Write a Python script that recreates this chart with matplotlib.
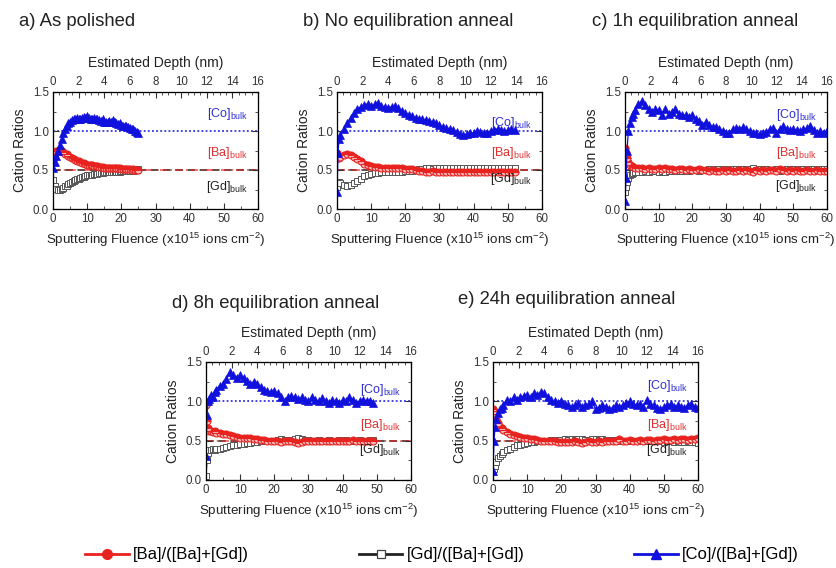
import matplotlib
matplotlib.use('Agg')
import matplotlib.pyplot as plt
from matplotlib.lines import Line2D
from matplotlib.ticker import MultipleLocator

plt.rcParams['font.family'] = ['Liberation Sans', 'DejaVu Sans']
plt.rcParams['mathtext.fontset'] = 'custom'
plt.rcParams['mathtext.rm'] = 'Liberation Sans'
plt.rcParams['mathtext.it'] = 'Liberation Sans'

# ---------- data ----------
a_x = [0, 0.5, 1, 1.5, 2, 2.5, 3, 3.5, 4, 4.5, 5, 5.5, 6, 6.5, 7, 7.5, 8, 8.5, 9, 9.5,
       10, 10.5, 11, 11.5, 12, 12.5, 13, 13.5, 14, 14.5, 15, 15.5, 16, 16.5, 17, 17.5,
       18, 18.5, 19, 19.5, 20, 20.5, 21, 21.5, 22, 22.5, 23, 23.5, 24, 24.5, 25]
a_co = [0.52, 0.60, 0.68, 0.75, 0.82, 0.90, 0.97, 1.02, 1.07, 1.10,
        1.12, 1.14, 1.16, 1.15, 1.17, 1.16, 1.15, 1.17, 1.18, 1.17,
        1.19, 1.17, 1.16, 1.15, 1.17, 1.15, 1.16, 1.14, 1.13, 1.15,
        1.12, 1.12, 1.11, 1.13, 1.12, 1.14, 1.11, 1.10, 1.09, 1.10,
        1.08, 1.07, 1.06, 1.07, 1.05, 1.04, 1.03, 1.02, 1.00, 0.99, 0.97]
a_ba = [0.63, 0.70, 0.74, 0.75, 0.75, 0.74, 0.73, 0.71, 0.70, 0.68,
        0.67, 0.65, 0.64, 0.63, 0.62, 0.61, 0.60, 0.59, 0.59, 0.58,
        0.57, 0.57, 0.56, 0.56, 0.55, 0.55, 0.55, 0.54, 0.54, 0.54,
        0.53, 0.53, 0.53, 0.53, 0.52, 0.52, 0.52, 0.52, 0.52, 0.52,
        0.51, 0.51, 0.51, 0.51, 0.51, 0.51, 0.50, 0.51, 0.50, 0.50, 0.50]
a_gd = [0.37, 0.30, 0.26, 0.25, 0.25, 0.26, 0.27, 0.29, 0.30, 0.32,
        0.33, 0.35, 0.36, 0.37, 0.38, 0.39, 0.40, 0.41, 0.41, 0.42,
        0.43, 0.43, 0.44, 0.44, 0.45, 0.45, 0.45, 0.46, 0.46, 0.46,
        0.47, 0.47, 0.47, 0.47, 0.48, 0.48, 0.48, 0.48, 0.48, 0.48,
        0.49, 0.49, 0.49, 0.49, 0.49, 0.49, 0.50, 0.49, 0.50, 0.50, 0.51]

b_x = [0, 0.3, 0.6, 1, 2, 3, 4, 5, 6, 7, 8, 9, 10, 11, 12, 13, 14, 15, 16, 17, 18,
       19, 20, 21, 22, 23, 24, 25, 26, 27, 28, 29, 30, 31, 32, 33, 34, 35, 36, 37,
       38, 39, 40, 41, 42, 43, 44, 45, 46, 47, 48, 49, 50, 51, 52]
b_co = [0.22, 0.72, 0.90,
        0.95, 1.02, 1.10, 1.17, 1.23, 1.28, 1.31, 1.33, 1.35, 1.32,
        1.34, 1.36, 1.32, 1.31, 1.30, 1.31, 1.32, 1.29, 1.26, 1.23,
        1.21, 1.19, 1.17, 1.16, 1.15, 1.14, 1.13, 1.12, 1.10, 1.08,
        1.05, 1.04, 1.03, 1.01, 0.99, 0.96, 0.95, 0.96, 0.97, 0.98,
        1.00, 0.99, 0.97, 0.98, 1.00, 1.01, 1.03, 1.01, 1.00, 1.01,
        1.02, 1.01]
b_ba = [0.72, 0.66, 0.65,
        0.67, 0.69, 0.70, 0.69, 0.67, 0.64, 0.61, 0.58, 0.56, 0.55,
        0.54, 0.54, 0.53, 0.53, 0.53, 0.52, 0.52, 0.52, 0.52, 0.51,
        0.51, 0.51, 0.50, 0.49, 0.49, 0.48, 0.48, 0.49, 0.48, 0.48,
        0.48, 0.48, 0.47, 0.48, 0.48, 0.48, 0.48, 0.47, 0.48, 0.48,
        0.47, 0.48, 0.48, 0.48, 0.47, 0.48, 0.48, 0.48, 0.48, 0.48,
        0.48, 0.48]
b_gd = [0.28, 0.34, 0.35,
        0.33, 0.31, 0.30, 0.31, 0.33, 0.36, 0.39, 0.42, 0.44, 0.45,
        0.46, 0.46, 0.47, 0.47, 0.47, 0.48, 0.48, 0.48, 0.48, 0.49,
        0.49, 0.49, 0.50, 0.51, 0.51, 0.52, 0.52, 0.51, 0.52, 0.52,
        0.52, 0.52, 0.53, 0.52, 0.52, 0.52, 0.52, 0.53, 0.52, 0.52,
        0.53, 0.52, 0.52, 0.52, 0.53, 0.52, 0.52, 0.52, 0.52, 0.52,
        0.52, 0.52]

c_x = [0, 0.3, 0.6, 1, 1.5, 2, 2.5, 3, 4, 5, 6, 7, 8, 9, 10, 11, 12, 13, 14, 15, 16,
       17, 18, 19, 20, 21, 22, 23, 24, 25, 26, 27, 28, 29, 30, 31, 32, 33, 34, 35,
       36, 37, 38, 39, 40, 41, 42, 43, 44, 45, 46, 47, 48, 49, 50, 51, 52, 53, 54,
       55, 56, 57, 58, 59, 60]
c_co = [0.10, 0.40, 0.75, 1.00, 1.10, 1.18, 1.22, 1.27,
        1.35, 1.38, 1.33, 1.28, 1.25, 1.28, 1.27, 1.20, 1.28, 1.22,
        1.25, 1.28, 1.22, 1.21, 1.20, 1.18, 1.20, 1.15, 1.13, 1.08,
        1.12, 1.08, 1.05, 1.05, 1.03, 1.00, 0.98, 0.98, 1.02, 1.04,
        1.03, 1.05, 1.03, 1.00, 0.98, 0.97, 0.96, 0.97, 0.99, 1.02,
        1.04, 0.98, 1.03, 1.06, 1.03, 1.01, 1.02, 1.01, 1.00, 1.02,
        1.04, 1.07, 1.01, 0.98, 1.00, 0.97, 1.00]
c_ba = [0.78, 0.72, 0.65, 0.60, 0.57, 0.55, 0.54, 0.53,
        0.52, 0.52, 0.51, 0.52, 0.51, 0.51, 0.52, 0.51, 0.52, 0.51,
        0.51, 0.50, 0.51, 0.51, 0.50, 0.51, 0.50, 0.50, 0.51, 0.50,
        0.50, 0.49, 0.50, 0.49, 0.49, 0.50, 0.49, 0.50, 0.49, 0.49,
        0.50, 0.49, 0.50, 0.49, 0.48, 0.50, 0.49, 0.50, 0.49, 0.50,
        0.50, 0.49, 0.51, 0.50, 0.49, 0.50, 0.49, 0.50, 0.49, 0.49,
        0.50, 0.49, 0.49, 0.50, 0.49, 0.49, 0.49]
c_gd = [0.22, 0.28, 0.35, 0.40, 0.43, 0.45, 0.46, 0.47,
        0.48, 0.48, 0.49, 0.48, 0.49, 0.49, 0.48, 0.49, 0.48, 0.49,
        0.49, 0.50, 0.49, 0.49, 0.50, 0.49, 0.50, 0.50, 0.49, 0.50,
        0.50, 0.51, 0.50, 0.51, 0.51, 0.50, 0.51, 0.50, 0.51, 0.51,
        0.50, 0.51, 0.50, 0.51, 0.52, 0.50, 0.51, 0.50, 0.51, 0.50,
        0.50, 0.51, 0.49, 0.50, 0.51, 0.50, 0.51, 0.50, 0.51, 0.51,
        0.50, 0.51, 0.51, 0.50, 0.51, 0.51, 0.51]

d_x = [0, 0.3, 0.6, 1, 1.5, 2, 2.5, 3, 4, 5, 6, 7, 8, 9, 10, 11, 12, 13, 14, 15, 16,
       17, 18, 19, 20, 21, 22, 23, 24, 25, 26, 27, 28, 29, 30, 31, 32, 33, 34, 35,
       36, 37, 38, 39, 40, 41, 42, 43, 44, 45, 46, 47, 48, 49]
d_co = [0.30, 0.82, 1.00, 1.03, 1.08, 1.05, 1.12, 1.15,
        1.20, 1.22, 1.28, 1.37, 1.33, 1.30, 1.33, 1.30, 1.26, 1.22,
        1.25, 1.22, 1.18, 1.15, 1.13, 1.12, 1.13, 1.10, 1.05, 1.00,
        1.05, 1.07, 1.05, 1.03, 1.05, 1.02, 1.00, 1.05, 1.02, 1.00,
        1.04, 1.00, 0.98, 1.02, 1.00, 0.98, 1.02, 1.00, 1.05, 1.02,
        0.98, 1.00, 1.02, 1.01, 1.00, 0.98]
d_ba = [0.95, 0.75, 0.66, 0.62, 0.62, 0.61, 0.62, 0.60,
        0.60, 0.59, 0.58, 0.57, 0.56, 0.55, 0.54, 0.54, 0.53, 0.53,
        0.52, 0.52, 0.51, 0.51, 0.50, 0.50, 0.50, 0.49, 0.48, 0.49,
        0.50, 0.49, 0.48, 0.47, 0.48, 0.49, 0.49, 0.50, 0.50, 0.49,
        0.50, 0.50, 0.49, 0.50, 0.50, 0.49, 0.50, 0.49, 0.50, 0.51,
        0.50, 0.49, 0.50, 0.50, 0.49, 0.49]
d_gd = [0.05, 0.25, 0.34, 0.38, 0.38, 0.39, 0.38, 0.40,
        0.40, 0.41, 0.42, 0.43, 0.44, 0.45, 0.46, 0.46, 0.47, 0.47,
        0.48, 0.48, 0.49, 0.49, 0.50, 0.50, 0.50, 0.51, 0.52, 0.51,
        0.50, 0.51, 0.52, 0.53, 0.52, 0.51, 0.51, 0.50, 0.50, 0.51,
        0.50, 0.50, 0.51, 0.50, 0.50, 0.51, 0.50, 0.51, 0.50, 0.49,
        0.50, 0.51, 0.50, 0.50, 0.51, 0.51]

e_x = c_x
e_co = [0.12, 0.50, 0.68, 0.78, 0.85, 0.90, 0.92, 0.95,
        1.02, 1.00, 1.05, 1.02, 1.05, 1.07, 1.08, 1.05, 1.10, 1.08,
        1.12, 1.10, 1.05, 1.02, 1.00, 0.98, 1.00, 0.97, 0.95, 0.93,
        0.95, 0.98, 0.93, 0.95, 0.97, 1.00, 0.90, 0.92, 0.95, 0.93,
        0.90, 0.92, 0.95, 0.93, 0.95, 0.98, 1.00, 0.97, 0.95, 0.97,
        0.93, 1.02, 0.97, 0.95, 0.92, 0.90, 0.93, 0.95, 0.97, 0.93,
        0.95, 0.93, 0.92, 0.95, 0.97, 0.93, 0.92]
e_ba = [0.90, 0.88, 0.84, 0.78, 0.72, 0.68, 0.66, 0.63,
        0.61, 0.59, 0.57, 0.56, 0.55, 0.54, 0.53, 0.52, 0.52, 0.51,
        0.50, 0.50, 0.49, 0.49, 0.49, 0.48, 0.48, 0.48, 0.48, 0.48,
        0.49, 0.48, 0.47, 0.48, 0.49, 0.48, 0.48, 0.49, 0.48, 0.49,
        0.49, 0.49, 0.50, 0.52, 0.50, 0.50, 0.51, 0.50, 0.50, 0.51,
        0.50, 0.51, 0.51, 0.50, 0.51, 0.51, 0.52, 0.51, 0.51, 0.52,
        0.51, 0.52, 0.52, 0.51, 0.52, 0.52, 0.53]
e_gd = [0.10, 0.14, 0.18, 0.23, 0.28, 0.31, 0.33, 0.36,
        0.38, 0.40, 0.42, 0.44, 0.45, 0.46, 0.47, 0.48, 0.48, 0.49,
        0.50, 0.50, 0.50, 0.51, 0.51, 0.51, 0.51, 0.52, 0.51, 0.52,
        0.51, 0.52, 0.52, 0.51, 0.51, 0.52, 0.52, 0.51, 0.52, 0.51,
        0.51, 0.51, 0.50, 0.49, 0.50, 0.50, 0.49, 0.50, 0.50, 0.49,
        0.50, 0.49, 0.49, 0.50, 0.49, 0.49, 0.48, 0.49, 0.49, 0.48,
        0.49, 0.48, 0.48, 0.49, 0.48, 0.48, 0.47]

titles = ['a) As polished', 'b) No equilibration anneal', 'c) 1h equilibration anneal',
          'd) 8h equilibration anneal', 'e) 24h equilibration anneal']
# y of the [Co], [Ba], [Gd] bulk labels per panel
co_lab_y = [1.22, 1.10, 1.20, 1.15, 1.20]
ba_lab_y = [0.72, 0.72, 0.72, 0.70, 0.70]
gd_lab_y = [0.28, 0.38, 0.30, 0.38, 0.38]
series_names = ['[Ba]/([Ba]+[Gd])', '[Gd]/([Ba]+[Gd])', '[Co]/([Ba]+[Gd])']

panels = [(a_x, a_ba, a_gd, a_co), (b_x, b_ba, b_gd, b_co), (c_x, c_ba, c_gd, c_co),
          (d_x, d_ba, d_gd, d_co), (e_x, e_ba, e_gd, e_co)]

W, H = 837, 568
# axes boxes in pixels: left, top, right, bottom
boxes = [(53, 92, 258, 209), (337, 92, 542, 209), (625, 92, 827, 209),
         (206, 362, 411, 480), (493, 362, 698, 480)]
title_pos = [(19, 22), (303, 22), (592, 22), (172, 303), (458, 300)]

RED = '#e8231f'
BLACK = '#222222'
BLUE = '#1111dd'

fig = plt.figure(figsize=(W / 100, H / 100), dpi=100)

for i, (x, ba, gd, co) in enumerate(panels):
    l, t, r, b = boxes[i]
    ax = fig.add_axes([l / W, 1 - b / H, (r - l) / W, (b - t) / H])

    ax.axhline(1.0, color=BLUE, ls=(0, (1.2, 1.5)), lw=1.1, zorder=1)
    ax.axhline(0.5, color=BLACK, ls=(0, (5, 3)), lw=1.1, zorder=1)
    ax.axhline(0.5, color=RED, ls=(0, (5, 2, 1, 2)), lw=1.1, zorder=1, alpha=0.8)

    ax.plot(x, ba, color=RED, lw=0.9, marker='o', ms=5.0, mew=0.8,
            mec=RED, mfc=RED, fillstyle='top', markerfacecoloralt='#f6c0c0', zorder=3)
    ax.plot(x, gd, color=BLACK, lw=0.9, marker='s', ms=4.6, mew=0.7,
            mec='#555555', mfc='white', zorder=2)
    ax.plot(x, co, color=BLUE, lw=0.9, marker='^', ms=5.8, mew=0.5,
            mec=BLUE, mfc=BLUE, zorder=4)

    ax.set_xlim(0, 60)
    ax.set_ylim(0, 1.5)
    ax.xaxis.set_major_locator(MultipleLocator(10))
    ax.xaxis.set_minor_locator(MultipleLocator(5))
    ax.yaxis.set_major_locator(MultipleLocator(0.5))
    ax.yaxis.set_minor_locator(MultipleLocator(0.25))
    ax.tick_params(which='both', direction='in', right=True, labelsize=8.3, pad=3,
                   colors='#333333')
    ax.tick_params(which='major', length=4)
    ax.tick_params(which='minor', length=2.5)
    ax.set_xlabel('Sputtering Fluence (x10$^{15}$ ions cm$^{-2}$)', fontsize=9.6,
                  labelpad=4, color='#222222')
    ax.set_ylabel('Cation Ratios', fontsize=10, labelpad=4, color='#222222')
    for s in ax.spines.values():
        s.set_color('#444444')
        s.set_linewidth(0.9)

    ax.text(57, co_lab_y[i], '[Co]$_{\\rm bulk}$', color='#3030d0', fontsize=9,
            ha='right', va='center')
    ax.text(57, ba_lab_y[i], '[Ba]$_{\\rm bulk}$', color='#e03030', fontsize=9,
            ha='right', va='center')
    ax.text(57, gd_lab_y[i], '[Gd]$_{\\rm bulk}$', color='#222222', fontsize=9,
            ha='right', va='center')

    top = ax.twiny()
    top.set_xlim(0, 16)
    top.xaxis.set_major_locator(MultipleLocator(2))
    top.xaxis.set_minor_locator(MultipleLocator(0.5))
    top.tick_params(which='both', direction='in', labelsize=8.3, pad=3, colors='#333333')
    top.tick_params(which='major', length=4)
    top.tick_params(which='minor', length=2.5)
    top.set_xlabel('Estimated Depth (nm)', fontsize=10, labelpad=6, color='#222222')

    tx, ty = title_pos[i]
    fig.text(tx / W, 1 - ty / H, titles[i], fontsize=13.3, ha='left', va='center',
             color='#222222')

# legend keys drawn a little heavier, as in the original
handles = [
    Line2D([], [], color=RED, lw=2, marker='o', ms=7, mec=RED, mfc=RED,
           label=series_names[0]),
    Line2D([], [], color=BLACK, lw=2, marker='s', ms=6, mec='#444444', mfc='white',
           mew=0.9, label=series_names[1]),
    Line2D([], [], color=BLUE, lw=2, marker='^', ms=7.5, mec=BLUE, mfc=BLUE,
           label=series_names[2]),
]
fig.legend(handles=handles, loc='center', bbox_to_anchor=(442 / W, 1 - 555 / H),
           ncol=3, frameon=False, fontsize=12, handlelength=2.6, columnspacing=6.6,
           handletextpad=0.25)

fig.savefig('out.png', dpi=100)
